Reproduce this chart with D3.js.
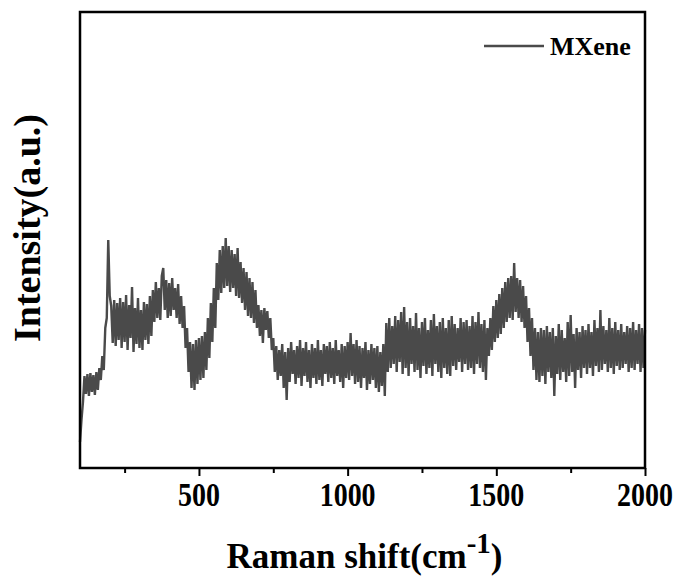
<!DOCTYPE html>
<html>
<head>
<meta charset="utf-8">
<script src="https://cdn.jsdelivr.net/npm/d3@7/dist/d3.min.js"></script>
<style>
  html, body { margin: 0; padding: 0; background: #fff; }
  svg { display: block; }
  text { font-family: "Liberation Serif", "Times New Roman", serif; font-weight: bold; fill: #000; }
</style>
</head>
<body>
<svg id="chart" width="679" height="578"></svg>
<script>
// Raman shift sampling grid (cm^-1): start, step
const shiftStart = 100;
const shiftStep = 5;
// Intensity (a.u.), one value per sample
const intensity = [
  26,48,66,92,74,94,72,95,76,93,
  73,96,78,100,88,112,98,140,150,228,
  172,162,125,168,122,165,128,170,120,166,
  126,173,118,163,130,181,116,160,124,170,
  120,158,118,166,128,164,124,172,132,178,
  146,186,150,180,148,192,200,158,188,150,
  185,152,190,158,180,150,184,144,172,140,
  162,120,140,96,126,80,124,78,128,84,
  130,88,132,90,136,98,150,110,165,126,
  180,140,205,168,218,175,222,180,230,182,
  222,176,218,180,214,172,220,170,206,165,
  200,158,196,152,190,150,186,145,178,140,
  163,132,158,125,160,138,157,130,150,118,
  130,96,122,88,118,92,124,80,116,68,
  120,86,126,94,118,84,122,90,128,82,
  120,92,126,86,118,80,124,90,120,84,
  128,88,118,82,124,94,122,86,126,90,
  120,84,128,92,118,86,124,80,122,90,
  126,88,135,92,124,84,128,86,122,80,
  120,90,126,78,118,84,124,88,120,80,
  122,76,116,82,124,72,145,96,150,100,
  142,104,152,96,148,106,156,94,161,100,
  146,92,150,104,142,96,155,98,140,90,
  146,102,150,94,138,100,148,92,154,104,
  142,96,146,90,150,100,140,94,148,92,
  152,102,144,98,140,106,150,96,146,104,
  148,98,142,100,152,94,146,104,156,100,
  144,96,148,88,140,112,150,118,162,126,
  168,130,174,134,180,140,186,146,190,150,
  192,148,205,156,190,150,188,146,182,140,
  172,126,160,112,150,98,140,88,136,86,
  140,92,138,84,142,96,136,90,140,72,
  132,94,144,88,138,96,130,86,146,92,
  153,96,134,80,140,98,136,90,142,100,
  138,94,144,100,136,92,148,102,140,96,
  158,98,142,104,138,96,150,100,140,94,
  146,102,138,98,144,100,136,104,142,96,
  140,100,146,98,138,104,144,96,140,100,
  138
];
const xTicksMajor = [500, 1000, 1500, 2000];
const xTicksMinor = [250, 750, 1250, 1750];
const seriesName = "MXene";
const xTitle = "Raman shift(cm";
const xTitleSup = "-1";
const yTitle = "Intensity(a.u.)";

const data = intensity.map((v, i) => ({ x: shiftStart + i * shiftStep, y: v }));

const svg = d3.select("#chart");
const pL = 80, pT = 12, pR = 645, pB = 468;

const x = d3.scaleLinear().domain([100, 2000]).range([pL, pR]);
const y = d3.scaleLinear().domain([0, 456]).range([pB, pT]);

// data line
const line = d3.line().x(d => x(d.x)).y(d => y(d.y));
svg.append("path")
  .datum(data)
  .attr("d", line)
  .attr("fill", "none")
  .attr("stroke", "#4a4a4a")
  .attr("stroke-width", 2.4)
  .attr("stroke-linejoin", "bevel");

// bottom axis: major ticks
const gx = svg.append("g").attr("transform", `translate(0,${pB})`);
gx.call(d3.axisBottom(x).tickValues(xTicksMajor).tickSize(8).tickFormat(""))
  .call(g => g.select(".domain").remove())
  .call(g => g.selectAll(".tick line").attr("stroke", "#000").attr("stroke-width", 2));
// minor ticks
const gxm = svg.append("g").attr("transform", `translate(0,${pB})`);
gxm.call(d3.axisBottom(x).tickValues(xTicksMinor).tickSize(5).tickFormat(""))
  .call(g => g.select(".domain").remove())
  .call(g => g.selectAll(".tick line").attr("stroke", "#000").attr("stroke-width", 2));

// tick labels (slightly tall glyphs as in the picture)
svg.append("g").selectAll("g.lbl")
  .data(xTicksMajor)
  .join("g")
  .attr("class", "lbl")
  .attr("transform", d => `translate(${x(d)},506) scale(1,1.2)`)
  .append("text")
  .attr("text-anchor", "middle")
  .attr("font-size", 28)
  .text(d => d);

// frame
svg.append("rect")
  .attr("x", pL).attr("y", pT)
  .attr("width", pR - pL).attr("height", pB - pT)
  .attr("fill", "none").attr("stroke", "#000").attr("stroke-width", 2.5);

// x title
const xt = svg.append("text")
  .attr("x", (pL + pR) / 2 + 2)
  .attr("y", 568)
  .attr("text-anchor", "middle")
  .attr("font-size", 35);
xt.append("tspan").text(xTitle);
xt.append("tspan").attr("font-size", 29).attr("dy", -15).text(xTitleSup);
xt.append("tspan").attr("dy", 15).text(")");

// y title
svg.append("text")
  .attr("transform", `translate(40,228) rotate(-90)`)
  .attr("text-anchor", "middle")
  .attr("font-size", 38)
  .text(yTitle);

// legend
svg.append("line")
  .attr("x1", 484).attr("x2", 544)
  .attr("y1", 46).attr("y2", 46)
  .attr("stroke", "#4a4a4a").attr("stroke-width", 2.5);
svg.append("text")
  .attr("x", 550).attr("y", 55)
  .attr("font-size", 26)
  .text(seriesName);
</script>
</body>
</html>
